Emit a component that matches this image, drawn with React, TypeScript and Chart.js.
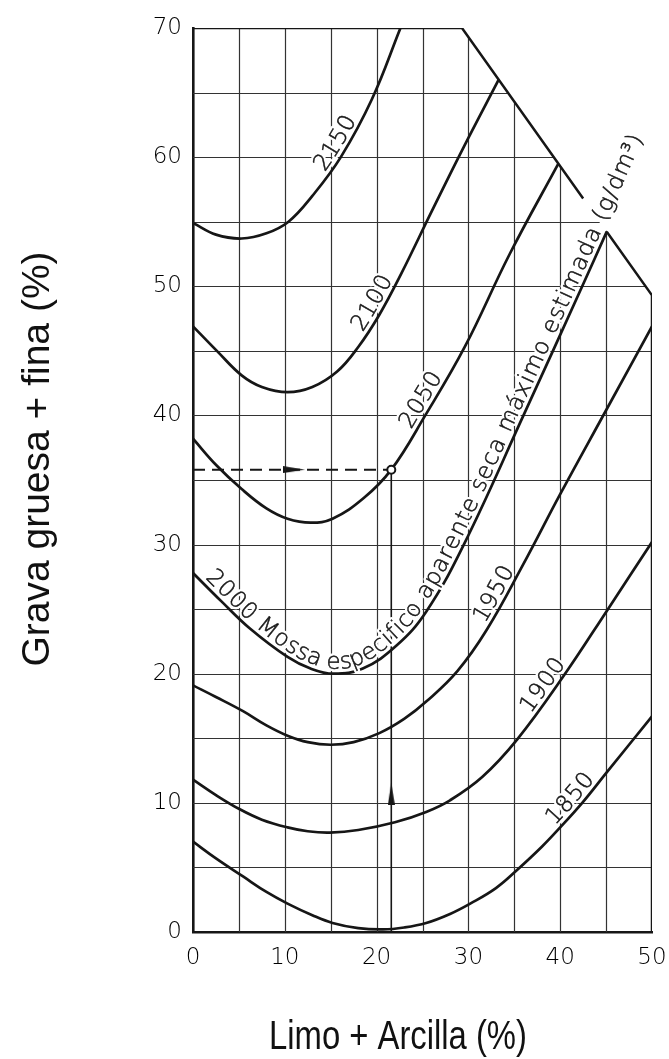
import React, { useEffect, useRef } from "react";
import { Chart, registerables } from "chart.js";

Chart.register(...registerables);

const INK = "#161616";
const GRID = "#333333";

const X_MIN = 0;
const X_MAX = 50;
const Y_MIN = 0;
const Y_MAX = 70;
const GRID_STEP = 5;
const LABEL_STEP = 10;

// Curves of equal estimated maximum dry density (g/dm3)
const C2150_X = [0, 2.5, 5.3, 8, 10.4, 13, 16.1, 19.5, 22.6];
const C2150_Y = [54.9, 54.0, 53.7, 54.1, 55, 57, 60, 64.5, 70];

const C2100_X = [0, 2.6, 5.3, 7.5, 10.3, 13, 15.7, 18, 20.3, 22.7, 26, 29.5, 33.3];
const C2100_Y = [46.9, 45.0, 43.1, 42.2, 41.8, 42.2, 43.4, 45.3, 47.8, 51, 55.8, 60.8, 66.0];

const C2050_X = [0, 2.6, 5.3, 8, 10.3, 12.8, 15.2, 18.6, 21.6, 25.3, 29.6, 34.5, 39.8];
const C2050_Y = [38.2, 36.1, 34.3, 32.8, 32.0, 31.7, 32.0, 33.6, 35.8, 40, 45.3, 52.5, 59.5];

const C2000_X = [0, 3.1, 6.2, 10.3, 12.8, 15.3, 18.5, 22.2, 25.4, 29.5, 36, 42.4, 45.07];
const C2000_Y = [27.8, 25.6, 23.5, 21.3, 20.4, 20.0, 20.4, 22.2, 24.8, 30, 40, 50, 54.23];

const C1950_X = [0, 2.5, 5.45, 8, 10.3, 12.5, 15, 17.5, 20.3, 23, 25.5, 28.8, 32, 36, 40, 45, 50];
const C1950_Y = [19.1, 18.2, 17.1, 16.0, 15.2, 14.7, 14.5, 14.7, 15.4, 16.5, 17.9, 20.2, 23.4, 28.5, 33.9, 40.4, 46.9];

const C1900_X = [0, 2.5, 5.1, 7.5, 10.3, 12.5, 14.9, 18, 22, 25.4, 28, 31.5, 35.3, 40.25, 45.2, 50];
const C1900_Y = [11.8, 10.6, 9.5, 8.7, 8.1, 7.8, 7.7, 7.9, 8.5, 9.3, 10.2, 12.0, 14.9, 19.7, 25, 30.2];

const C1850_X = [0, 2.5, 5.45, 8, 10.3, 13, 15.2, 18, 20.7, 23, 25.4, 28, 30.2, 33, 35.3, 38, 40, 42.4, 45, 50];
const C1850_Y = [7.0, 5.7, 4.3, 3.1, 2.2, 1.3, 0.7, 0.3, 0.2, 0.35, 0.7, 1.4, 2.2, 3.4, 4.8, 6.6, 8.1, 10, 12.3, 16.7];

// Outer frame (top edge, bevelled corner, right edge)
const FRAME_X = [0, 29.3, 42.5, 45.07, 50, 50];
const FRAME_Y = [70, 70, 56.8, 54.23, 49.3, 0];
// the bevel line that bounds the grid
const BEVEL_X = [29.3, 50];
const BEVEL_Y = [70, 49.3];

// Worked example
const GUIDE_H_X = [0, 21.6];
const GUIDE_H_Y = [35.8, 35.8];
const GUIDE_V_X = [21.6, 21.6];
const GUIDE_V_Y = [0, 35.8];
const ARROW_X = [11, 21.6];
const ARROW_Y = [35.8, 10.7];
const ARROW_ROT = [90, 0];
const MARK_X = [21.6];
const MARK_Y = [35.8];

const LABEL_CURVES = ["2150", "2100", "2050", "1950", "1900", "1850"];
const LABEL_AT_X = [16.6, 20.6, 25.8, 33.8, 39.0, 42.0];
const LONG_LABEL = "2000 Mossa especifico aparente seca máximo estimada (g/dm³)";
const X_TITLE = "Limo + Arcilla (%)";
const Y_TITLE = "Grava gruesa + fina (%)";

const TICK_FONT = { family: "'DejaVu Sans'", size: 23, weight: "200" as any };
const LABEL_FONT = "200 23px 'DejaVu Sans'";

type P = { x: number; y: number };
type Path = { pts: P[]; cum: number[] };

const zip = (xs: number[], ys: number[]) => xs.map((x, i) => ({ x, y: ys[i] }));

// bevel helpers (data units)
const bevelYAt = (x: number) =>
  BEVEL_Y[0] + ((BEVEL_Y[1] - BEVEL_Y[0]) * (x - BEVEL_X[0])) / (BEVEL_X[1] - BEVEL_X[0]);
const bevelXAt = (y: number) =>
  BEVEL_X[0] + ((BEVEL_X[1] - BEVEL_X[0]) * (y - BEVEL_Y[0])) / (BEVEL_Y[1] - BEVEL_Y[0]);

function samplePath(meta: any): Path {
  const els = meta.data as any[];
  const pts: P[] = [];
  for (let i = 0; i < els.length - 1; i++) {
    const a = els[i];
    const b = els[i + 1];
    const c1x = a.cp2x ?? a.x;
    const c1y = a.cp2y ?? a.y;
    const c2x = b.cp1x ?? b.x;
    const c2y = b.cp1y ?? b.y;
    for (let k = 0; k < 24; k++) {
      const t = k / 24;
      const u = 1 - t;
      pts.push({
        x: u * u * u * a.x + 3 * u * u * t * c1x + 3 * u * t * t * c2x + t * t * t * b.x,
        y: u * u * u * a.y + 3 * u * u * t * c1y + 3 * u * t * t * c2y + t * t * t * b.y,
      });
    }
  }
  const last = els[els.length - 1];
  pts.push({ x: last.x, y: last.y });
  const cum = [0];
  for (let i = 1; i < pts.length; i++) {
    cum.push(cum[i - 1] + Math.hypot(pts[i].x - pts[i - 1].x, pts[i].y - pts[i - 1].y));
  }
  return { pts, cum };
}

function at(path: Path, s: number): P {
  const { pts, cum } = path;
  const n = pts.length;
  const total = cum[n - 1];
  if (s <= 0) {
    const j = Math.min(6, n - 1);
    const L = cum[j] || 1;
    return { x: pts[0].x + ((pts[j].x - pts[0].x) * s) / L, y: pts[0].y + ((pts[j].y - pts[0].y) * s) / L };
  }
  if (s >= total) {
    const j = Math.max(0, n - 7);
    const L = total - cum[j] || 1;
    const e = s - total;
    const pa = pts[j];
    const pb = pts[n - 1];
    return { x: pb.x + ((pb.x - pa.x) * e) / L, y: pb.y + ((pb.y - pa.y) * e) / L };
  }
  let lo = 0;
  let hi = n - 1;
  while (hi - lo > 1) {
    const mid = (lo + hi) >> 1;
    if (cum[mid] <= s) lo = mid;
    else hi = mid;
  }
  const f = (s - cum[lo]) / (cum[hi] - cum[lo] || 1);
  return { x: pts[lo].x + (pts[hi].x - pts[lo].x) * f, y: pts[lo].y + (pts[hi].y - pts[lo].y) * f };
}

function arcAtX(path: Path, px: number): number {
  for (let i = 0; i < path.pts.length; i++) if (path.pts[i].x >= px) return path.cum[i];
  return path.cum[path.cum.length - 1];
}

function drawAlong(ctx: CanvasRenderingContext2D, path: Path, text: string, s0: number, offset: number, spacing: number, mode: number) {
  let s = s0;
  for (const ch of Array.from(text)) {
    const w = ctx.measureText(ch).width;
    const m = s + w / 2;
    const p = at(path, m);
    const pa = at(path, m - 6);
    const pb = at(path, m + 6);
    const ang = Math.atan2(pb.y - pa.y, pb.x - pa.x);
    ctx.save();
    ctx.translate(p.x, p.y);
    ctx.rotate(ang);
    if (mode === 0) ctx.strokeText(ch, -w / 2, -offset);
    else {
      ctx.fillText(ch, -w / 2, -offset);
      ctx.strokeText(ch, -w / 2, -offset);
    }
    ctx.restore();
    s += w + spacing;
  }
}

function makeArrow(w: number, h: number): HTMLCanvasElement {
  const c = document.createElement("canvas");
  c.width = w;
  c.height = h;
  const g = c.getContext("2d")!;
  g.fillStyle = INK;
  g.beginPath();
  g.moveTo(w / 2, 0);
  g.lineTo(w, h);
  g.lineTo(0, h);
  g.closePath();
  g.fill();
  return c;
}

const annotate = {
  id: "annotate",
  beforeDatasetsDraw(chart: any) {
    // grid lines, bounded by the bevelled frame
    const ctx: CanvasRenderingContext2D = chart.ctx;
    const xs = chart.scales.x;
    const ys = chart.scales.y;
    ctx.save();
    ctx.strokeStyle = GRID;
    ctx.lineWidth = 1.2;
    ctx.beginPath();
    xs.ticks.forEach((t: any) => {
      const v = t.value;
      if (v <= X_MIN || v >= X_MAX) return;
      const top = v > BEVEL_X[0] ? bevelYAt(v) : Y_MAX;
      const px = Math.round(xs.getPixelForValue(v)) + 0.5;
      ctx.moveTo(px, ys.getPixelForValue(Y_MIN));
      ctx.lineTo(px, ys.getPixelForValue(top));
    });
    ys.ticks.forEach((t: any) => {
      const v = t.value;
      if (v <= Y_MIN || v >= Y_MAX) return;
      const right = v > BEVEL_Y[1] ? bevelXAt(v) : X_MAX;
      const py = Math.round(ys.getPixelForValue(v)) + 0.5;
      ctx.moveTo(xs.getPixelForValue(X_MIN), py);
      ctx.lineTo(xs.getPixelForValue(right), py);
    });
    ctx.stroke();
    ctx.restore();
  },
  afterDatasetsDraw(chart: any) {
    const ctx: CanvasRenderingContext2D = chart.ctx;
    const xs = chart.scales.x;
    const findPath = (name: string) => {
      const idx = chart.data.datasets.findIndex((d: any) => d.label === name);
      return samplePath(chart.getDatasetMeta(idx));
    };
    ctx.save();
    ctx.font = LABEL_FONT;
    ctx.textBaseline = "alphabetic";
    ctx.lineJoin = "round";

    const jobs: { path: Path; text: string; s0: number; off: number; sp: number }[] = [];
    LABEL_CURVES.forEach((name, i) => {
      const path = findPath(name);
      const w = ctx.measureText(name).width + 3;
      const sc = arcAtX(path, xs.getPixelForValue(LABEL_AT_X[i]));
      jobs.push({ path, text: name, s0: sc - w / 2, off: 5, sp: 1 });
    });
    const longPath = findPath("2000");
    const chars = Array.from(LONG_LABEL);
    const tw = chars.reduce((acc, ch) => acc + ctx.measureText(ch).width, 0);
    const sStart = 12;
    const sEnd = longPath.cum[longPath.cum.length - 1] + 100;
    jobs.push({ path: longPath, text: LONG_LABEL, s0: sStart, off: 5, sp: (sEnd - sStart - tw) / (chars.length - 1) });

    ctx.strokeStyle = "#ffffff";
    ctx.lineWidth = 5;
    jobs.forEach((j) => drawAlong(ctx, j.path, j.text, j.s0, j.off, j.sp, 0));
    ctx.fillStyle = INK;
    ctx.strokeStyle = INK;
    ctx.lineWidth = 0.5;
    jobs.forEach((j) => drawAlong(ctx, j.path, j.text, j.s0, j.off, j.sp, 1));
    ctx.restore();
  },
  afterDraw(chart: any) {
    const ctx: CanvasRenderingContext2D = chart.ctx;
    ctx.save();
    ctx.fillStyle = "#111";
    ctx.textAlign = "center";
    ctx.textBaseline = "alphabetic";
    ctx.font = "39px 'Liberation Sans', Arial, sans-serif";
    ctx.save();
    ctx.translate(49, 459);
    ctx.rotate(-Math.PI / 2);
    ctx.fillText(Y_TITLE, 0, 0);
    ctx.restore();
    ctx.font = "40px 'Liberation Sans', Arial, sans-serif";
    ctx.save();
    ctx.translate(398, 1049);
    ctx.scale(0.82, 1);
    ctx.fillText(X_TITLE, 0, 0);
    ctx.restore();
    ctx.restore();
  },
};

export default function App() {
  const ref = useRef<HTMLCanvasElement>(null);

  useEffect(() => {
    const canvas = ref.current!;
    const arrow = makeArrow(7, 22);
    const curve = (label: string, xs: number[], ys: number[]) => ({
      label,
      data: zip(xs, ys),
      borderColor: INK,
      borderWidth: 2.7,
      pointRadius: 0,
      tension: 0.4,
      fill: false,
      order: 1,
    });

    const chart = new Chart(canvas, {
      type: "line",
      data: {
        datasets: [
          curve("2150", C2150_X, C2150_Y),
          curve("2100", C2100_X, C2100_Y),
          curve("2050", C2050_X, C2050_Y),
          curve("2000", C2000_X, C2000_Y),
          curve("1950", C1950_X, C1950_Y),
          curve("1900", C1900_X, C1900_Y),
          curve("1850", C1850_X, C1850_Y),
          {
            label: "frame",
            data: zip(FRAME_X, FRAME_Y),
            borderColor: INK,
            borderWidth: 2.5,
            pointRadius: 0,
            tension: 0,
            fill: false,
            order: 2,
            segment: {
              borderColor: (c: any) => (c.p0DataIndex === 2 ? "rgba(0,0,0,0)" : undefined),
            },
          } as any,
          {
            label: "guideH",
            data: zip(GUIDE_H_X, GUIDE_H_Y),
            borderColor: INK,
            borderWidth: 2,
            borderDash: [12, 7],
            pointRadius: 0,
            fill: false,
            order: 3,
          },
          {
            label: "guideV",
            data: zip(GUIDE_V_X, GUIDE_V_Y),
            borderColor: INK,
            borderWidth: 1.6,
            pointRadius: 0,
            fill: false,
            order: 3,
          },
          {
            label: "arrows",
            data: zip(ARROW_X, ARROW_Y),
            showLine: false,
            pointStyle: arrow as any,
            pointRotation: ARROW_ROT as any,
            pointRadius: 10,
            order: 0,
          } as any,
          {
            label: "mark",
            data: zip(MARK_X, MARK_Y),
            showLine: false,
            pointStyle: "circle",
            pointRadius: 4,
            pointBorderWidth: 2,
            pointBackgroundColor: "#ffffff",
            pointBorderColor: INK,
            order: 0,
          },
        ],
      },
      options: {
        animation: false,
        responsive: true,
        maintainAspectRatio: false,
        layout: { padding: { top: 28, right: 17, left: 0, bottom: 0 } },
        plugins: { legend: { display: false }, tooltip: { enabled: false } },
        scales: {
          x: {
            type: "linear",
            min: X_MIN,
            max: X_MAX,
            afterFit: (s: any) => {
              s.height = 127;
              s.paddingLeft = 0;
              s.paddingRight = 0;
            },
            ticks: {
              stepSize: GRID_STEP,
              autoSkip: false,
              maxRotation: 0,
              padding: 12,
              color: "#000",
              font: TICK_FONT,
              callback: (v: any) => (Number(v) % LABEL_STEP === 0 ? String(v) : ""),
            },
            grid: { display: false, drawTicks: false },
            border: { display: true, color: INK, width: 2.6 },
          },
          y: {
            type: "linear",
            min: Y_MIN,
            max: Y_MAX,
            afterFit: (s: any) => {
              s.width = 193;
              s.paddingTop = 0;
              s.paddingBottom = 0;
            },
            ticks: {
              stepSize: GRID_STEP,
              autoSkip: false,
              padding: 11,
              color: "#000",
              font: TICK_FONT,
              callback: (v: any) => (Number(v) % LABEL_STEP === 0 ? String(v) : ""),
            },
            grid: { display: false, drawTicks: false },
            border: { display: true, color: INK, width: 2.6 },
          },
        },
      },
      plugins: [annotate as any],
    });
    return () => chart.destroy();
  }, []);

  return (
    <div style={{ position: "absolute", left: 0, top: 0, width: 669, height: 1059, background: "#fff" }}>
      <canvas ref={ref} />
    </div>
  );
}
